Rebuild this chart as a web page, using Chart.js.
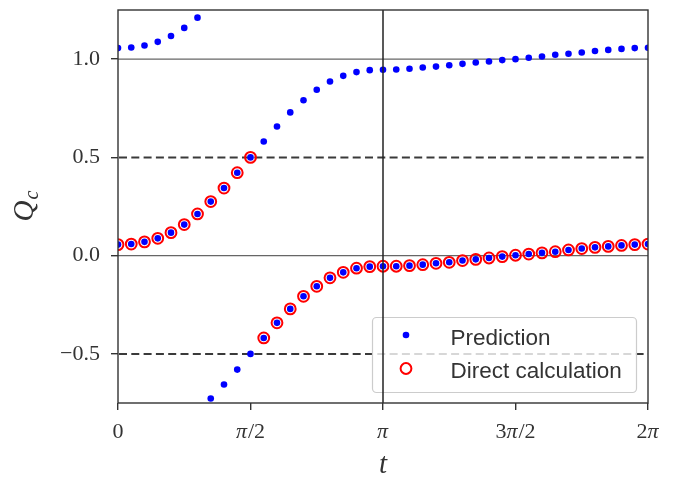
<!DOCTYPE html>
<html><head><meta charset="utf-8">
<script src="https://cdn.jsdelivr.net/npm/chart.js@4/dist/chart.umd.min.js"></script>
<style>html,body{margin:0;padding:0;background:#fff}</style>
</head><body>
<canvas id="c" width="677" height="477" style="width:677px;height:477px;display:block"></canvas>
<script>
const PI = Math.PI;
// sample times: t_k = k*pi/20, k = 0..40
const tValues = Array.from({length: 41}, (_, k) => k * PI / 20);

// Direct calculation (branch in [-0.5, 0.5])
const directValues = [0.056,0.059,0.070,0.088,0.117,0.158,0.212,0.275,0.344,0.422,0.500,
  -0.419,-0.342,-0.271,-0.207,-0.156,-0.113,-0.085,-0.064,-0.056,-0.054,
  -0.054,-0.051,-0.046,-0.039,-0.034,-0.025,-0.019,-0.012,-0.005,0.002,
  0.008,0.014,0.020,0.029,0.036,0.042,0.047,0.052,0.056,0.059];

// Prediction, main branch
const predMain = [0.056,0.059,0.070,0.088,0.117,0.158,0.212,0.275,0.344,0.422,0.500,
  -0.419,-0.342,-0.271,-0.207,-0.156,-0.113,-0.085,-0.064,-0.056,-0.054,
  -0.054,-0.051,-0.046,-0.039,-0.034,-0.025,-0.019,-0.012,-0.005,0.002,
  0.008,0.014,0.020,0.029,0.036,0.042,0.047,0.052,0.056,0.059];
// Prediction, upper branch (null = outside the plotted range)
const predUpper = [1.056,1.059,1.069,1.088,1.118,1.159,1.211,null,null,null,null,
  0.581,0.657,0.729,0.791,0.844,0.886,0.915,0.934,0.944,0.946,
  0.947,0.951,0.957,0.962,0.969,0.976,0.983,0.988,0.995,1.000,
  1.007,1.013,1.022,1.027,1.034,1.041,1.047,1.052,1.056,1.058];
// Prediction, lower branch
const predLower = [null,null,null,null,null,null,null,-0.727,-0.656,-0.580,-0.500,
  null,null,null,null,null,null,null,null,null,null,
  null,null,null,null,null,null,null,null,null,null,
  null,null,null,null,null,null,null,null,null,null];

const xTickValues = [0, PI/2, PI, 3*PI/2, 2*PI];
const xTickLabels = ['0', 'π/2', 'π', '3π/2', '2π'];
const yTickValues = [-0.5, 0, 0.5, 1.0];
const yTickLabels = ['−0.5', '0.0', '0.5', '1.0'];
const solidHLines = [0, 1];
const dashedHLines = [-0.5, 0.5];
const vLines = [PI];
const legendLabels = ['Prediction', 'Direct calculation'];

const toPts = arr => tValues.map((t, i) => ({x: t, y: arr[i]})).filter(p => p.y !== null);
const predictionPts = [...toPts(predMain), ...toPts(predUpper), ...toPts(predLower)];
const directPts = toPts(directValues);

const SPINE = '#333';
const TXT = '#333';
const SERIF = '"Liberation Serif"';

function drawMixed(ctx, label, cx, baseline, size) {
  // π drawn italic, everything else upright
  const parts = [];
  for (const ch of label) {
    const it = ch === 'π';
    if (parts.length && parts[parts.length - 1].it === it) parts[parts.length - 1].s += ch;
    else parts.push({s: ch, it});
  }
  let total = 0;
  parts.forEach(p => {
    ctx.font = (p.it ? 'italic ' : '') + size + 'px ' + SERIF;
    p.w = ctx.measureText(p.s).width + (p.it ? 1 : 0);
    total += p.w;
  });
  let x0 = cx - total / 2;
  ctx.textAlign = 'left';
  parts.forEach(p => {
    ctx.font = (p.it ? 'italic ' : '') + size + 'px ' + SERIF;
    ctx.fillText(p.s, x0, baseline);
    x0 += p.w;
  });
}

const refLines = {
  id: 'refLines',
  beforeDatasetsDraw(chart) {
    const {ctx, chartArea: a, scales: {x, y}} = chart;
    ctx.save();
    ctx.beginPath(); ctx.rect(a.left, a.top, a.right - a.left, a.bottom - a.top); ctx.clip();
    ctx.strokeStyle = '#666'; ctx.lineWidth = 1.2;
    solidHLines.forEach(v => {
      const py = y.getPixelForValue(v);
      ctx.beginPath(); ctx.moveTo(a.left, py); ctx.lineTo(a.right, py); ctx.stroke();
    });
    ctx.strokeStyle = '#3a3a3a'; ctx.lineWidth = 2; ctx.setLineDash([8, 4.3]);
    dashedHLines.forEach(v => {
      const py = y.getPixelForValue(v);
      ctx.beginPath(); ctx.moveTo(a.left + 1, py); ctx.lineTo(a.right, py); ctx.stroke();
    });
    ctx.restore();
  },
  afterDatasetsDraw(chart) {
    const {ctx, chartArea: a, scales: {x, y}} = chart;
    ctx.save();
    // legend
    const lx = 372.5, ly = 317.5, lw = 264, lh = 75, r = 4;
    ctx.beginPath();
    ctx.moveTo(lx + r, ly); ctx.lineTo(lx + lw - r, ly); ctx.arcTo(lx + lw, ly, lx + lw, ly + r, r);
    ctx.lineTo(lx + lw, ly + lh - r); ctx.arcTo(lx + lw, ly + lh, lx + lw - r, ly + lh, r);
    ctx.lineTo(lx + r, ly + lh); ctx.arcTo(lx, ly + lh, lx, ly + lh - r, r);
    ctx.lineTo(lx, ly + r); ctx.arcTo(lx, ly, lx + r, ly, r); ctx.closePath();
    ctx.fillStyle = 'rgba(255,255,255,0.8)'; ctx.fill();
    ctx.strokeStyle = '#cccccc'; ctx.lineWidth = 1.2; ctx.stroke();
    ctx.fillStyle = '#0000ff';
    ctx.beginPath(); ctx.arc(406, 335, 3.3, 0, 2 * PI); ctx.fill();
    ctx.strokeStyle = '#ff0000'; ctx.lineWidth = 2;
    ctx.beginPath(); ctx.arc(406, 368.5, 5.4, 0, 2 * PI); ctx.stroke();
    ctx.fillStyle = TXT; ctx.font = '22.5px "Liberation Sans"'; ctx.textBaseline = 'alphabetic'; ctx.textAlign = 'left';
    ctx.fillText(legendLabels[0], 450.5, 345);
    ctx.fillText(legendLabels[1], 450.5, 377.7);
    // vertical line
    ctx.strokeStyle = '#222'; ctx.lineWidth = 1.5;
    vLines.forEach(v => {
      const px = x.getPixelForValue(v);
      ctx.beginPath(); ctx.moveTo(px, a.top); ctx.lineTo(px, a.bottom); ctx.stroke();
    });
    // spines
    ctx.strokeStyle = SPINE; ctx.lineWidth = 1.4;
    ctx.strokeRect(a.left, a.top, a.right - a.left, a.bottom - a.top);
    // x tick labels
    ctx.fillStyle = TXT; ctx.textBaseline = 'alphabetic';
    xTickValues.forEach((v, i) => drawMixed(ctx, xTickLabels[i], x.getPixelForValue(v), 438, 22));
    // axis titles
    ctx.textAlign = 'center';
    ctx.font = 'italic 29px ' + SERIF;
    ctx.fillText('t', (a.left + a.right) / 2, 473);
    ctx.translate(33, (a.top + a.bottom) / 2);
    ctx.rotate(-PI / 2);
    ctx.textAlign = 'left';
    ctx.font = 'italic 29px ' + SERIF;
    const qw = ctx.measureText('Q').width;
    ctx.font = 'italic 20px ' + SERIF;
    const cw = ctx.measureText('c').width;
    const start = -(qw + cw) / 2;
    ctx.font = 'italic 29px ' + SERIF;
    ctx.fillText('Q', start, 0);
    ctx.font = 'italic 20px ' + SERIF;
    ctx.fillText('c', start + qw + 1, 5);
    ctx.restore();
  }
};

new Chart(document.getElementById('c'), {
  type: 'scatter',
  data: {
    datasets: [
      {label: legendLabels[0], data: predictionPts, pointRadius: 3.3, pointHoverRadius: 3.3,
       backgroundColor: '#0000ff', borderWidth: 0, pointBorderWidth: 0},
      {label: legendLabels[1], data: directPts, pointRadius: 5.4, pointHoverRadius: 5.4,
       backgroundColor: 'rgba(0,0,0,0)', borderColor: '#ff0000', pointBorderWidth: 2, borderWidth: 2}
    ]
  },
  options: {
    responsive: false,
    animation: false,
    devicePixelRatio: 1,
    layout: {padding: {left: 0, right: 29, top: 10, bottom: 0}},
    plugins: {legend: {display: false}, tooltip: {enabled: false}},
    scales: {
      x: {
        type: 'linear', min: 0, max: 2 * PI,
        afterBuildTicks: s => { s.ticks = xTickValues.map(v => ({value: v})); },
        afterFit: s => { s.height = 74; s.paddingLeft = 0; s.paddingRight = 0; },
        ticks: {display: false, autoSkip: false, maxRotation: 0},
        grid: {display: true, drawOnChartArea: false, drawTicks: true, tickLength: 7, color: SPINE, lineWidth: 1.4},
        border: {display: false}
      },
      y: {
        type: 'linear', min: -0.75, max: 1.25,
        afterBuildTicks: s => { s.ticks = yTickValues.map(v => ({value: v})); },
        afterFit: s => { s.width = 118; s.paddingTop = 0; s.paddingBottom = 0; },
        ticks: {callback: (v, i) => yTickLabels[i], autoSkip: false,
                font: {family: SERIF, size: 22}, color: TXT, padding: 11},
        grid: {display: true, drawOnChartArea: false, drawTicks: true, tickLength: 7, color: SPINE, lineWidth: 1.4},
        border: {display: false}
      }
    }
  },
  plugins: [refLines]
});
</script>
</body></html>
